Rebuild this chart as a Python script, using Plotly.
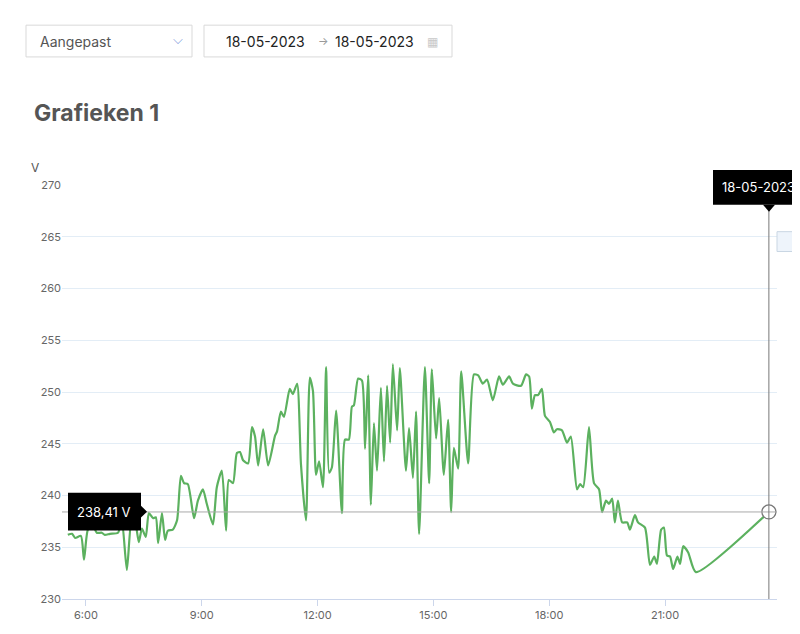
import plotly.graph_objects as go

# hour of day (decimal) and voltage
hours = [5.53, 5.64, 5.72, 5.87, 5.95, 6.05, 6.18, 6.28, 6.41, 6.49, 6.62, 6.83, 6.93, 7.06, 7.19,
         7.27, 7.37, 7.45, 7.55, 7.63, 7.74, 7.81, 7.87, 7.97, 8.05, 8.12, 8.25, 8.36, 8.46, 8.54,
         8.64, 8.80, 8.90, 9.03, 9.13, 9.29, 9.39, 9.52, 9.63, 9.70, 9.81, 9.91, 9.99, 10.07, 10.20,
         10.30, 10.38, 10.46, 10.59, 10.72, 10.90, 10.95, 11.05, 11.13, 11.28, 11.36, 11.47, 11.57,
         11.70, 11.80, 11.88, 11.96, 12.04, 12.14, 12.22, 12.30, 12.37, 12.48, 12.63, 12.71, 12.81,
         12.89, 12.94, 13.05, 13.15, 13.23, 13.31, 13.38, 13.46, 13.54, 13.64, 13.72, 13.80, 13.88,
         13.95, 14.06, 14.13, 14.29, 14.37, 14.47, 14.55, 14.63, 14.78, 14.89, 14.96, 15.07, 15.15,
         15.27, 15.38, 15.46, 15.53, 15.64, 15.72, 15.90, 16.05, 16.16, 16.28, 16.39, 16.54, 16.70,
         16.80, 16.96, 17.06, 17.27, 17.40, 17.48, 17.55, 17.63, 17.71, 17.81, 17.89, 18.02, 18.12,
         18.20, 18.33, 18.46, 18.56, 18.72, 18.80, 18.88, 19.03, 19.16, 19.29, 19.37, 19.47, 19.55,
         19.63, 19.70, 19.78, 19.89, 20.02, 20.09, 20.22, 20.30, 20.48, 20.61, 20.72, 20.79, 20.90,
         20.97, 21.05, 21.13, 21.21, 21.32, 21.39, 21.47, 21.60, 21.80, 23.69]
volts = [236.2, 236.3, 235.9, 236.1, 233.8, 236.7, 237.1, 236.4, 236.4, 236.2, 236.3, 236.4, 237.6,
         232.8, 237.9, 237.6, 235.5, 236.8, 236.0, 238.3, 237.8, 237.9, 235.4, 238.3, 235.7, 236.6,
         236.7, 237.6, 241.9, 241.2, 241.1, 237.8, 239.5, 240.6, 239.2, 237.2, 240.8, 242.4, 236.6,
         241.5, 241.2, 244.1, 244.2, 243.4, 243.1, 246.6, 245.7, 242.9, 246.4, 242.9, 245.8, 246.2,
         248.1, 247.6, 250.3, 249.8, 250.8, 243.0, 237.6, 251.4, 250.1, 242.0, 243.3, 240.8, 252.4,
         242.2, 242.7, 248.2, 238.3, 245.4, 245.4, 248.6, 248.7, 251.3, 251.1, 244.5, 251.6, 239.1,
         247.0, 242.4, 250.4, 243.3, 250.6, 245.1, 252.7, 246.3, 252.3, 242.4, 246.5, 241.7, 248.1,
         236.3, 252.4, 241.2, 252.2, 245.5, 249.4, 242.0, 247.3, 238.4, 244.6, 242.6, 252.0, 243.1,
         251.7, 251.6, 250.8, 251.2, 249.2, 251.5, 250.7, 251.5, 250.8, 250.6, 251.7, 251.5, 248.4,
         249.7, 249.7, 250.3, 247.7, 247.1, 246.1, 246.4, 246.3, 245.1, 245.7, 240.6, 241.1, 240.8,
         246.6, 241.2, 240.6, 238.4, 239.5, 239.2, 239.7, 237.4, 239.5, 237.4, 237.4, 236.7, 238.1,
         237.4, 236.9, 233.3, 234.1, 233.4, 236.7, 236.9, 234.2, 234.1, 232.9, 234.1, 233.4, 235.1,
         234.5, 232.6, 238.41]
tick_hours = [6, 9, 12, 15, 18, 21]
tick_labels = ["6:00", "9:00", "12:00", "15:00", "18:00", "21:00"]
y_ticks = [230, 235, 240, 245, 250, 255, 260, 265, 270]

# the page adds an 8px body margin, so the figure sits at (8, 8)
OFF = 8
W, H = 792, 626
L, R, T, B = 54, 23, 177, 32
pw, ph = W - L - R, H - T - B


def px(x):
    return (x - OFF - L) / pw


def py(y):
    return (H - B - (y - OFF)) / ph


fig = go.Figure()
fig.add_trace(go.Scatter(x=hours, y=volts, mode="lines",
                         line=dict(color="#5cb15f", width=2.2, shape="spline", smoothing=0.6),
                         hoverinfo="skip"))
fig.add_trace(go.Scatter(x=[hours[-1]], y=[volts[-1]], mode="markers",
                         marker=dict(size=14, color="white",
                                     line=dict(color="#777", width=1.3)),
                         hoverinfo="skip"))

shapes = [
    dict(type="line", xref="paper", yref="y", x0=0, x1=1, y0=volts[-1], y1=volts[-1],
         line=dict(color="#aaaaaa", width=1)),
    dict(type="line", xref="x", yref="paper", x0=hours[-1], x1=hours[-1], y0=0, y1=py(205),
         line=dict(color="#777", width=1)),
    dict(type="rect", xref="paper", yref="paper", x0=px(26), x1=px(192), y0=py(56), y1=py(24),
         line=dict(color="#d9d9d9", width=1), fillcolor="white"),
    dict(type="rect", xref="paper", yref="paper", x0=px(204), x1=px(452), y0=py(56), y1=py(24),
         line=dict(color="#d9d9d9", width=1), fillcolor="white"),
    dict(type="rect", xref="paper", yref="paper", x0=px(68), x1=px(141), y0=py(533), y1=py(495),
         line=dict(width=0), fillcolor="black"),
    dict(type="path", xref="paper", yref="paper",
         path=f"M {px(141)},{py(508)} L {px(147)},{py(514)} L {px(141)},{py(520)} Z",
         line=dict(width=0), fillcolor="black"),
    dict(type="rect", xref="paper", yref="paper", x0=px(713), x1=px(805), y0=py(205), y1=py(170),
         line=dict(width=0), fillcolor="black"),
    dict(type="path", xref="paper", yref="paper",
         path=f"M {px(763)},{py(205)} L {px(769)},{py(212)} L {px(775)},{py(205)} Z",
         line=dict(width=0), fillcolor="black"),
    dict(type="rect", xref="paper", yref="paper", x0=px(777), x1=px(810), y0=py(252), y1=py(232),
         line=dict(color="#c9d6e3", width=1), fillcolor="#eef4fb"),
]

font = "Inter, Roboto, sans-serif"
annotations = [
    dict(text="Aangepast", x=px(38), y=py(40), xanchor="left", font=dict(size=14, color="#555")),
    dict(text="⌵", x=px(178), y=py(38), font=dict(size=13, color="#6f8fd8")),
    dict(text="18-05-2023", x=px(224), y=py(40), xanchor="left", font=dict(size=14, color="#222")),
    dict(text="→", x=px(323), y=py(40), font=dict(size=11, color="#999")),
    dict(text="18-05-2023", x=px(333), y=py(40), xanchor="left", font=dict(size=14, color="#222")),
    dict(text="▦", x=px(432), y=py(40), font=dict(size=12, color="#c8c8c8")),
    dict(text="<b>Grafieken 1</b>", x=px(32), y=py(112), xanchor="left",
         font=dict(size=23, color="#555")),
    dict(text="V", x=px(35), y=py(167), font=dict(size=12, color="#555")),
    dict(text="238,41 V", x=px(104), y=py(514), font=dict(size=13, color="white")),
    dict(text="18-05-2023 23:45", x=px(720), y=py(187), xanchor="left",
         font=dict(size=13, color="white")),
    dict(text="23", x=px(790), y=py(242), xanchor="left", font=dict(size=12, color="#555")),
]
for a in annotations:
    a.update(xref="paper", yref="paper", showarrow=False, yanchor="middle")
    a.setdefault("xanchor", "center")

fig.update_layout(
    width=W, height=H, margin=dict(l=L, r=R, t=T, b=B),
    plot_bgcolor="white", paper_bgcolor="white", showlegend=False,
    font=dict(family=font, color="#666", size=11),
    shapes=shapes, annotations=annotations,
    xaxis=dict(range=[5.38, 23.9], tickvals=tick_hours, ticktext=tick_labels, showgrid=False,
               zeroline=False, showline=True, linecolor="#ccd6eb", ticks="outside",
               tickcolor="#ccd6eb", ticklen=6, fixedrange=True),
    yaxis=dict(range=[230, 270], tickvals=y_ticks, gridcolor="#e3edf6", zeroline=False,
               ticks="", fixedrange=True),
)

fig.write_html("out.html")
